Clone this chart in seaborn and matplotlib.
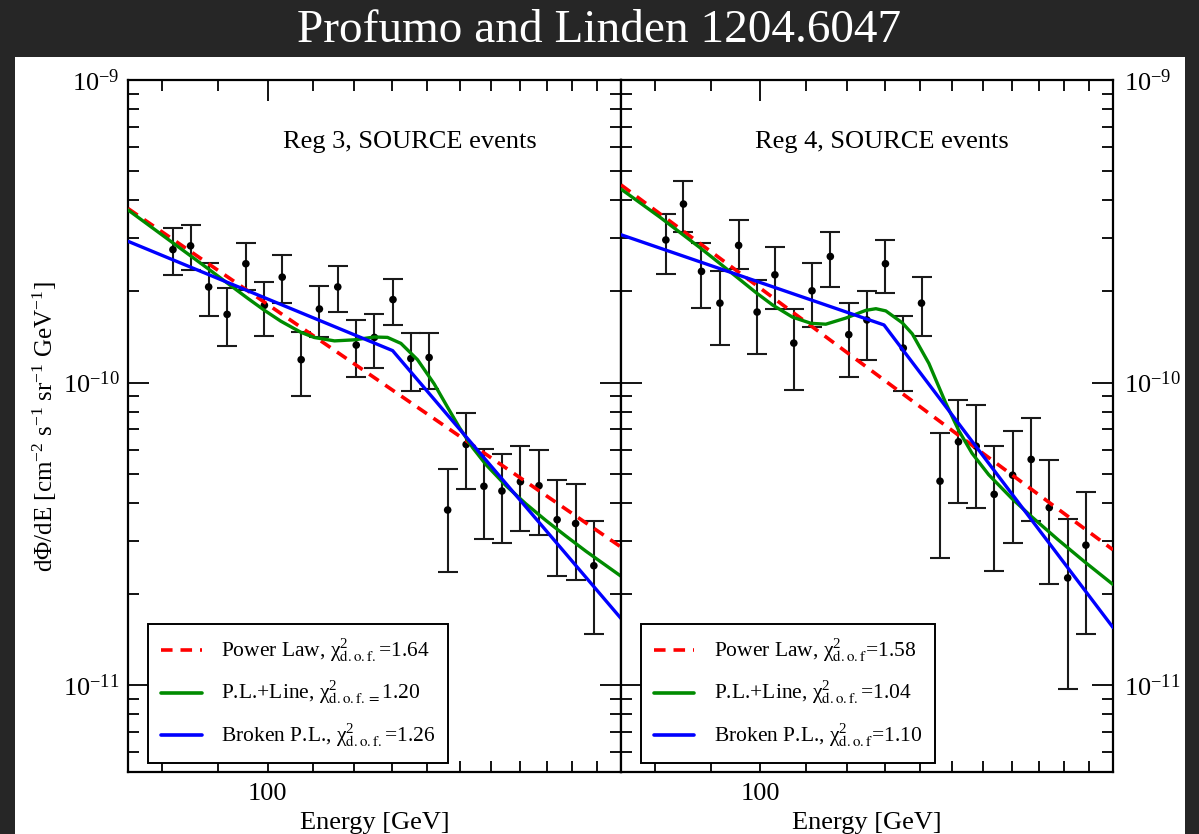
import numpy as np
import pandas as pd
import matplotlib
matplotlib.use("Agg")
import matplotlib.pyplot as plt
from matplotlib.patches import Rectangle
from matplotlib.lines import Line2D
from matplotlib.ticker import FixedLocator, NullFormatter, FixedFormatter, LogLocator
import seaborn as sns

# ---------------- data ----------------
energy = [81.9, 85.0, 88.3, 91.8, 95.5, 99.3, 103.1, 107.3, 111.5, 115.9, 120.5, 125.2,
          130.2, 135.2, 140.5, 146.1, 151.9, 157.7, 163.8, 170.3, 177.1, 184.0, 191.3, 198.8]

reg3_flux = [2.75e-10, 2.83e-10, 2.07e-10, 1.68e-10, 2.47e-10, 1.80e-10, 2.23e-10, 1.19e-10,
             1.75e-10, 2.07e-10, 1.33e-10, 1.41e-10, 1.88e-10, 1.20e-10, 1.21e-10, 3.79e-11,
             6.24e-11, 4.54e-11, 4.38e-11, 4.70e-11, 4.56e-11, 3.52e-11, 3.42e-11, 2.48e-11]
reg3_hi = [3.23e-10, 3.32e-10, 2.49e-10, 2.05e-10, 2.90e-10, 2.15e-10, 2.63e-10, 1.47e-10,
           2.09e-10, 2.43e-10, 1.61e-10, 1.69e-10, 2.20e-10, 1.46e-10, 1.46e-10, 5.19e-11,
           7.96e-11, 6.01e-11, 5.81e-11, 6.16e-11, 5.98e-11, 4.75e-11, 4.61e-11, 3.48e-11]
reg3_lo = [2.26e-10, 2.35e-10, 1.66e-10, 1.32e-10, 2.03e-10, 1.43e-10, 1.83e-10, 9.04e-11,
           1.41e-10, 1.71e-10, 1.04e-10, 1.12e-10, 1.55e-10, 9.39e-11, 9.53e-11, 2.37e-11,
           4.44e-11, 3.03e-11, 2.94e-11, 3.23e-11, 3.13e-11, 2.29e-11, 2.22e-11, 1.48e-11]

reg4_flux = [2.96e-10, 3.89e-10, 2.33e-10, 1.83e-10, 2.84e-10, 1.71e-10, 2.27e-10, 1.35e-10,
             2.01e-10, 2.61e-10, 1.44e-10, 1.61e-10, 2.47e-10, 1.30e-10, 1.83e-10, 4.72e-11,
             6.37e-11, 6.16e-11, 4.27e-11, 4.94e-11, 5.57e-11, 3.86e-11, 2.26e-11, 2.90e-11]
reg4_hi = [3.62e-10, 4.64e-10, 2.90e-10, 2.33e-10, 3.44e-10, 2.18e-10, 2.80e-10, 1.75e-10,
           2.49e-10, 3.15e-10, 1.83e-10, 2.01e-10, 2.96e-10, 1.66e-10, 2.24e-10, 6.80e-11,
           8.74e-11, 8.46e-11, 6.16e-11, 6.94e-11, 7.66e-11, 5.56e-11, 3.55e-11, 4.35e-11]
reg4_lo = [2.28e-10, 3.14e-10, 1.76e-10, 1.33e-10, 2.37e-10, 1.24e-10, 1.75e-10, 9.43e-11,
           1.53e-10, 2.07e-10, 1.04e-10, 1.19e-10, 1.97e-10, 9.41e-11, 1.42e-10, 2.63e-11,
           4.00e-11, 3.85e-11, 2.38e-11, 2.95e-11, 3.48e-11, 2.15e-11, 9.68e-12, 1.47e-11]

# fitted model curves
reg3_pl_E = [74.5, 210.5]
reg3_pl_F = [3.76e-10, 2.86e-11]
reg3_bpl_E = [74.5, 130.1, 210.5]
reg3_bpl_F = [2.93e-10, 1.275e-10, 1.66e-11]
reg3_line_E = [74.5, 81.0, 88.1, 91.9, 95.9, 99.3, 102.8, 107.3, 110.3, 115.1, 120.0, 125.2, 128.7,
               132.4, 137.1, 142.0, 146.0, 149.8, 154.0, 158.4, 165.2, 172.3, 179.7, 187.4, 195.5, 210.5]
reg3_line_F = [3.72e-10, 2.98e-10, 2.385e-10, 2.128e-10, 1.897e-10, 1.733e-10, 1.595e-10, 1.464e-10,
               1.409e-10, 1.373e-10, 1.384e-10, 1.414e-10, 1.41e-10, 1.347e-10, 1.19e-10, 9.90e-11,
               8.31e-11, 7.09e-11, 6.09e-11, 5.35e-11, 4.56e-11, 3.97e-11, 3.50e-11, 3.11e-11,
               2.77e-11, 2.29e-11]

reg4_pl_E = [74.5, 210.5]
reg4_pl_F = [4.50e-10, 2.80e-11]
reg4_bpl_E = [74.5, 129.8, 210.5]
reg4_bpl_F = [3.08e-10, 1.55e-10, 1.55e-11]
reg4_line_E = [74.5, 80.9, 87.9, 91.7, 95.7, 99.1, 102.6, 107.0, 111.3, 114.8, 119.8, 124.9, 127.6,
               130.3, 134.9, 137.8, 142.7, 147.8, 152.0, 156.3, 161.9, 170.0, 177.3, 187.5, 198.4, 210.5]
reg4_line_F = [4.36e-10, 3.518e-10, 2.801e-10, 2.482e-10, 2.193e-10, 1.981e-10, 1.804e-10, 1.645e-10,
               1.569e-10, 1.559e-10, 1.634e-10, 1.732e-10, 1.754e-10, 1.725e-10, 1.576e-10, 1.448e-10,
               1.157e-10, 8.59e-11, 6.94e-11, 5.84e-11, 4.96e-11, 4.14e-11, 3.60e-11, 3.02e-11,
               2.55e-11, 2.15e-11]

panel_titles = ["Reg 3, SOURCE events", "Reg 4, SOURCE events"]
reg3_legend = [r"Power Law, $\chi^{2}_{\rm d.o.f.}$=1.64",
               r"P.L.+Line, $\chi^{2}_{\rm d.o.f.=}$1.20",
               r"Broken P.L., $\chi^{2}_{\rm d.o.f.}$=1.26"]
reg4_legend = [r"Power Law, $\chi^{2}_{\rm d.o.f}$=1.58",
               r"P.L.+Line, $\chi^{2}_{\rm d.o.f.}$=1.04",
               r"Broken P.L., $\chi^{2}_{\rm d.o.f}$=1.10"]

x_major_ticks = [100]
x_major_labels = ["100"]
x_minor_ticks = [80, 90, 110, 120, 130, 140, 150, 160, 170, 180, 190, 200]
y_major_ticks = [1e-11, 1e-10, 1e-9]
y_major_labels = [r"$10^{-11}$", r"$10^{-10}$", r"$10^{-9}$"]
x_limits = (74.5, 210.5)
y_limits = (5.16e-12, 1e-9)

# ---------------- style ----------------
sns.set_theme(style="ticks")
plt.rcParams["font.family"] = ["Liberation Serif", "DejaVu Serif"]
plt.rcParams["mathtext.fontset"] = "stix"
plt.rcParams["mathtext.default"] = "regular"
plt.rcParams["text.color"] = "black"
plt.rcParams["axes.labelcolor"] = "black"

W, H = 1199, 834
fig = plt.figure(figsize=(W / 100, H / 100), dpi=100, facecolor="#262626")
fig.patches.append(Rectangle((15 / W, 0), (1185 - 15) / W, (H - 57) / H,
                             transform=fig.transFigure, facecolor="white",
                             edgecolor="none", zorder=-10))

ax1 = fig.add_axes([128 / W, (H - 772) / H, 493 / W, 692 / H])
ax2 = fig.add_axes([621 / W, (H - 772) / H, 492 / W, 692 / H])
ax1.set_zorder(2)
ax2.set_zorder(2)

RED, GREEN, BLUE = "#ff0000", "#008b00", "#0000ff"

panels = [
    (ax1, reg3_flux, reg3_hi, reg3_lo, (reg3_pl_E, reg3_pl_F), (reg3_line_E, reg3_line_F),
     (reg3_bpl_E, reg3_bpl_F), panel_titles[0], reg3_legend, 0.572),
    (ax2, reg4_flux, reg4_hi, reg4_lo, (reg4_pl_E, reg4_pl_F), (reg4_line_E, reg4_line_F),
     (reg4_bpl_E, reg4_bpl_F), panel_titles[1], reg4_legend, 0.530),
]

for i, (ax, flux, hi, lo, pl, ln, bpl, title, leg_labels, tx) in enumerate(panels):
    ax.set_xscale("log")
    ax.set_yscale("log")
    ax.set_xlim(*x_limits)
    ax.set_ylim(*y_limits)
    ax.set_facecolor("white")

    f = np.array(flux)
    ax.errorbar(energy, flux, yerr=[f - np.array(lo), np.array(hi) - f], fmt="none",
                ecolor="#1a1a1a", elinewidth=1.5, capsize=7, capthick=1.5, zorder=2)
    df = pd.DataFrame({"E": energy, "F": flux})
    sns.scatterplot(data=df, x="E", y="F", ax=ax, color="black", s=30,
                    edgecolor="none", zorder=3, legend=False)

    sns.lineplot(x=pl[0], y=pl[1], ax=ax, color=RED, lw=2.6, sort=False,
                 estimator=None, zorder=4)
    ax.lines[-1].set_dashes((3.2, 2.2))
    sns.lineplot(x=ln[0], y=ln[1], ax=ax, color=GREEN, lw=2.4, sort=False,
                 estimator=None, zorder=5)
    ax.lines[-1].set_solid_joinstyle("round")
    sns.lineplot(x=bpl[0], y=bpl[1], ax=ax, color=BLUE, lw=2.4, sort=False,
                 estimator=None, zorder=6)

    ax.set_xlim(*x_limits)
    ax.set_ylim(*y_limits)
    ax.xaxis.set_major_locator(FixedLocator(x_major_ticks))
    ax.xaxis.set_major_formatter(FixedFormatter(x_major_labels))
    ax.xaxis.set_minor_locator(FixedLocator(x_minor_ticks))
    ax.xaxis.set_minor_formatter(NullFormatter())
    ax.yaxis.set_major_locator(FixedLocator(y_major_ticks))
    ax.yaxis.set_major_formatter(FixedFormatter(y_major_labels))
    ax.yaxis.set_minor_locator(LogLocator(base=10, subs=np.arange(2, 10)))
    ax.yaxis.set_minor_formatter(NullFormatter())

    ax.tick_params(which="both", direction="in", top=True, bottom=True, left=True,
                   right=True, color="black", labelcolor="black", labelsize=19, width=1.3)
    ax.tick_params(which="major", length=15)
    ax.tick_params(which="minor", length=8)
    ax.tick_params(axis="x", pad=8)
    if i == 1:
        ax.tick_params(axis="y", labelleft=False, labelright=True, pad=8)
    else:
        ax.tick_params(axis="y", pad=6)

    for s in ax.spines.values():
        s.set_linewidth(1.6)
        s.set_color("black")
        s.set_visible(True)

    ax.set_xlabel("Energy [GeV]", fontsize=19, labelpad=5, color="black")
    ax.set_ylabel("")

    ax.text(tx, 0.91, title, transform=ax.transAxes, ha="center", va="center",
            fontsize=19, color="black")

    handles = [Line2D([0], [0], color=RED, lw=2.6, dashes=(3.2, 2.2)),
               Line2D([0], [0], color=GREEN, lw=2.6),
               Line2D([0], [0], color=BLUE, lw=2.6)]
    leg = ax.legend(handles, leg_labels, loc="lower left", bbox_to_anchor=(0.04, 0.013),
                    borderaxespad=0, fontsize=15.5, frameon=True, fancybox=False,
                    edgecolor="black", framealpha=1, borderpad=0.6, labelspacing=0.68,
                    handlelength=1.9, handletextpad=0.9, labelcolor="black")
    leg.get_frame().set_linewidth(1.4)
    leg.set_zorder(10)

fig.text(45 / W, (H - 427) / H,
         r"d$\Phi$/dE [cm$^{-2}$ s$^{-1}$ sr$^{-1}$ GeV$^{-1}$]",
         rotation=90, ha="center", va="center", fontsize=18, color="black")

fig.text(0.5, (H - 31) / H, "Profumo and Linden 1204.6047", color="white",
         fontsize=34, ha="center", va="center")

fig.savefig("out.png", dpi=100, facecolor=fig.get_facecolor())
